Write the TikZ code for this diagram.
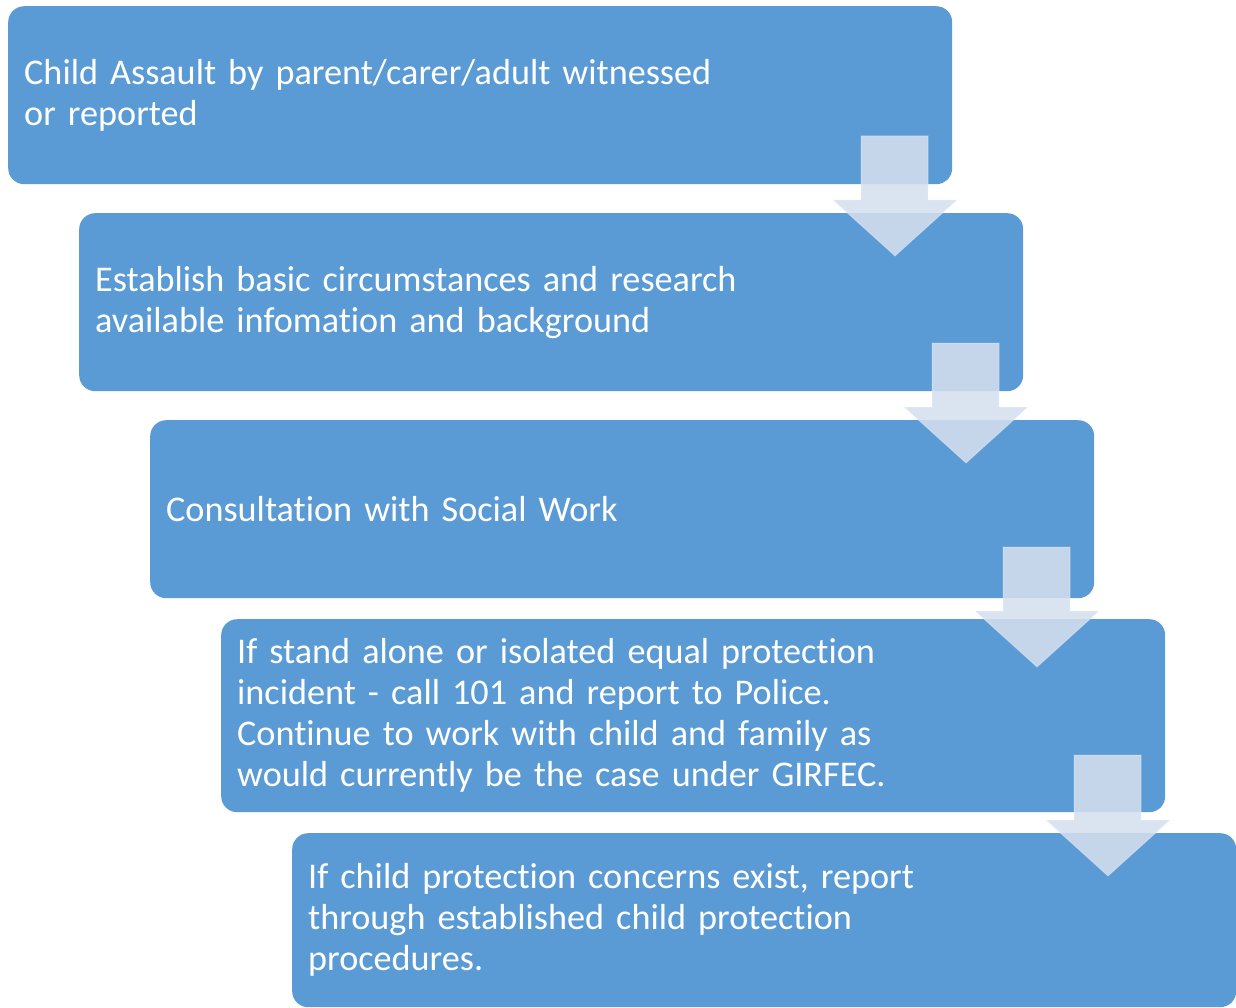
\documentclass[tikz,border=0pt]{standalone}
\usepackage{fontspec}
\setmainfont{Carlito}[RawFeature={-liga}]
\definecolor{stepblue}{HTML}{5B9BD5}
\definecolor{arrowtint}{RGB}{213,223,238}
\begin{document}
\begin{tikzpicture}[x=1pt,y=-1pt,
  stepbox/.style={rectangle, rounded corners=16pt, fill=stepblue, draw=none,
    anchor=north west, minimum height=178pt, text width=912pt, inner xsep=16pt,
    inner ysep=0pt, align=left, text=white,
    font=\fontsize{36.2}{41}\selectfont},
  downarrow/.style={fill=arrowtint, fill opacity=0.88, draw=white, draw opacity=0.25, line width=1pt}
]
\useasboundingbox (0,0) rectangle (1236,1008);

% the five steps
\node[stepbox] (b1) at (8,6) {Child Assault by parent/carer/adult witnessed\\or reported};
\node[stepbox] (b2) at (79,213) {Establish basic circumstances and research\\available infomation and background};
\node[stepbox] (b3) at (150,420) {Consultation with Social Work};
\node[stepbox, minimum height=193pt] (b4) at (221,619) {If stand alone or isolated equal protection\\incident - call 101 and report to Police.\\Continue to work with child and family as\\would currently be the case under GIRFEC.};
\node[stepbox, minimum height=174pt] (b5) at (292,833) {If child protection concerns exist, report\\through established child protection\\procedures.};

% translucent down arrows between the steps
\foreach \dx/\top/\head/\tip in {0/136/200/256, 71/343/407/463, 142/547/611/667, 213/755/820/876}{
  \draw[downarrow] (861+\dx,\top) -- (928+\dx,\top) -- (928+\dx,\head) -- (957+\dx,\head)
    -- (895+\dx,\tip) -- (833+\dx,\head) -- (861+\dx,\head) -- cycle;
}
\end{tikzpicture}
\end{document}
